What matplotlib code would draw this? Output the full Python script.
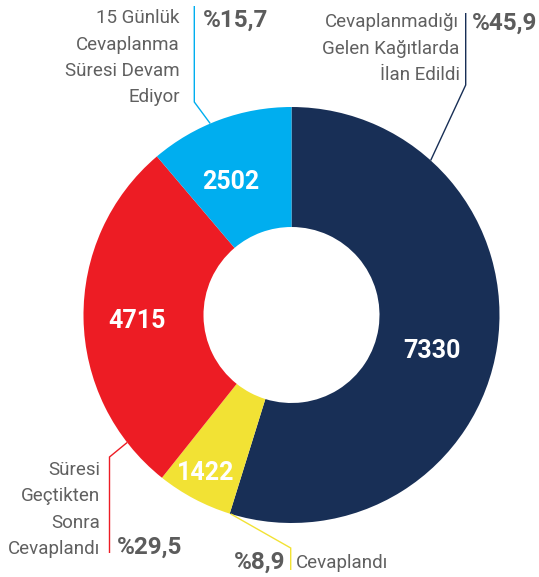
import matplotlib
matplotlib.use('Agg')
import matplotlib.pyplot as plt
import numpy as np

# ---- data ----
categories = [
    ['Cevaplanmadığı', 'Gelen Kağıtlarda', 'İlan Edildi'],
    ['Cevaplandı'],
    ['Süresi', 'Geçtikten', 'Sonra', 'Cevaplandı'],
    ['15 Günlük', 'Cevaplanma', 'Süresi Devam', 'Ediyor'],
]
counts = [7330, 1422, 4715, 2502]
percent_labels = ['%45,9', '%8,9', '%29,5', '%15,7']
# angular share of each slice as drawn in the reference (percent of circle)
slice_share = [54.8, 5.9, 28.1, 11.2]
colors = ['#182f56', '#f2e234', '#ed1c24', '#00aeef']

# ---- layout ----
W, H = 539, 577
fig = plt.figure(figsize=(W / 100, H / 100), dpi=100)
ax = fig.add_axes([0, 0, 1, 1])

def Y(y_img):
    return H - y_img

cx, cy = 291.5, Y(315)
R, r_in = 208, 88

wedges, _ = ax.pie(slice_share, colors=colors, startangle=90, counterclock=False,
                   radius=R, center=(cx, cy),
                   wedgeprops=dict(width=R - r_in, linewidth=0))
ax.set_xlim(0, W)
ax.set_ylim(0, H)
ax.set_aspect('equal')
ax.axis('off')

FONT = ['Roboto', 'DejaVu Sans']
label_col = '#606060'
pct_col = '#5c5c5c'

# inner value labels
label_radius = [144, 178, 155, 149]
angle_shift = [-5, -1, 0.5, 4]
for w, val, rr, sh in zip(wedges, counts, label_radius, angle_shift):
    th = np.deg2rad((w.theta1 + w.theta2) / 2 + sh)
    ax.text(cx + rr * np.cos(th), cy + rr * np.sin(th), f'{val}',
            ha='center', va='center_baseline', color='white',
            fontsize=18, fontweight='bold', family=FONT)

# leader lines: start on the outer rim (clockwise degrees from top), elbow, end
lead_start = [42, 197, 232.2, 337]
lead_elbow = [(465.7, 85), (290.7, 548), (109.5, 457), (194.3, 102)]
lead_end = [(465.7, 13), (290.7, 570), (109.5, 553), (194.3, 6)]
for col, a, el, en in zip(colors, lead_start, lead_elbow, lead_end):
    th = np.deg2rad(90 - a)
    sx, sy = cx + R * np.cos(th), cy + R * np.sin(th)
    ax.plot([sx, el[0], en[0]], [sy, Y(el[1]), Y(en[1])], color=col, lw=1.0,
            solid_capstyle='butt', solid_joinstyle='miter')

# category labels (right/left aligned lines) and percentages
cat_pos = [
    dict(x=459.5, y0=27.3, ha='right'),
    dict(x=296, y0=568.3, ha='left'),
    dict(x=100, y0=475, ha='right'),
    dict(x=180, y0=23.3, ha='right'),
]
line_step = 26.4
for lines, p in zip(categories, cat_pos):
    for i, t in enumerate(lines):
        ax.text(p['x'], Y(p['y0'] + i * line_step), t, ha=p['ha'], va='baseline',
                color=label_col, fontsize=13.5, family=FONT)

pct_pos = [
    dict(x=472, y=30, ha='left'),
    dict(x=285, y=568.3, ha='right'),
    dict(x=116.5, y=553.3, ha='left'),
    dict(x=203, y=26.7, ha='left'),
]
for t, p in zip(percent_labels, pct_pos):
    ax.text(p['x'], Y(p['y']), t, ha=p['ha'], va='baseline', color=pct_col,
            fontsize=17.5, fontweight='bold', family=FONT)

fig.savefig('out.png', dpi=100)
